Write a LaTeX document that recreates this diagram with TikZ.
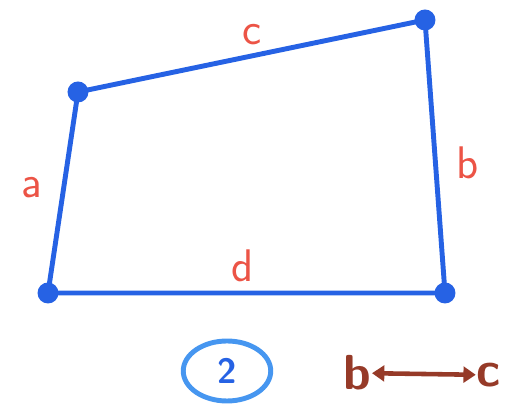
\documentclass[tikz,border=0pt]{standalone}
\usetikzlibrary{arrows.meta,shapes.geometric}
\definecolor{penblue}{RGB}{38,98,228}
\definecolor{penred}{RGB}{236,84,70}
\definecolor{pencirc}{RGB}{70,150,240}
\definecolor{penbrown}{RGB}{150,58,40}
\tikzset{
  vertex/.style={circle,fill=penblue,inner sep=0pt,minimum size=0.42cm},
  side/.style={penblue,line width=2.8pt,line cap=round},
  sidelabel/.style={penred,font=\sffamily\fontsize{26}{26}\selectfont},
  swaplabel/.style={penbrown,font=\sffamily\bfseries\fontsize{28}{28}\selectfont,inner sep=0.5pt}
}
\begin{document}
\begin{tikzpicture}
  \useasboundingbox (0,0) rectangle (10.12,8.12);

  % corners of the quadrilateral
  \node[vertex] (tl) at (1.56,6.28) {};
  \node[vertex] (tr) at (8.50,7.72) {};
  \node[vertex] (br) at (8.90,2.26) {};
  \node[vertex] (bl) at (0.96,2.26) {};

  \draw[side] (tl.center) -- (tr.center) -- (br.center) -- (bl.center) -- cycle;

  \node[sidelabel] (c) at (5.04,7.42) {c};
  \node[sidelabel] (b) at (9.36,4.86) {b};
  \node[sidelabel] (a) at (0.64,4.36) {a};
  \node[sidelabel] (d) at (4.86,2.80) {d};

  % case number and the swap
  \node[ellipse,draw=pencirc,line width=2.8pt,minimum width=1.75cm,minimum height=1.2cm,
        text=penblue,font=\sffamily\bfseries\fontsize{20}{20}\selectfont] (num) at (4.54,0.70) {2};
  \node[swaplabel] (sb) at (7.14,0.66) {b};
  \node[swaplabel] (sc) at (9.78,0.62) {c};
  \draw[penbrown,line width=2.6pt,{Triangle[length=7pt,width=9pt]}-{Triangle[length=7pt,width=9pt]}] (sb) -- (sc);
\end{tikzpicture}
\end{document}
